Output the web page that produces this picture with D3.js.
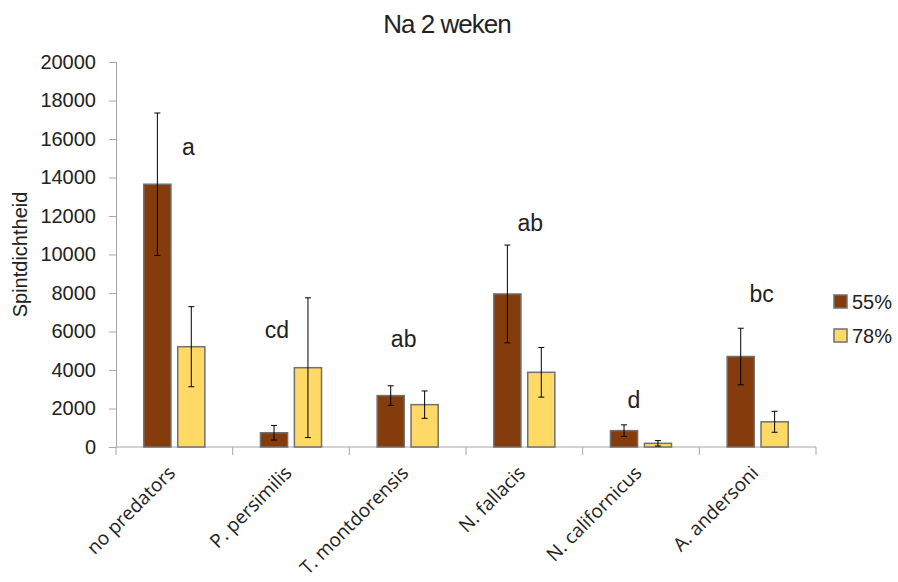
<!DOCTYPE html>
<html>
<head>
<meta charset="utf-8">
<script src="https://cdn.jsdelivr.net/npm/d3@7"></script>
<style>
  body { margin: 0; background: #fff; }
  text { font-family: "Liberation Sans", Arial, sans-serif; fill: #222; }
  text.cat { font-family: "Open Sans", sans-serif; }
</style>
</head>
<body>
<svg id="chart"></svg>
<script>
var width = 898;
var height = 582;

// data
var species = ["no predators", "P. persimilis", "T. montdorensis", "N. fallacis", "N. californicus", "A. andersoni"];
var series = ["55%", "78%"];
var colors = ["#843c0c", "#ffd966"];
var mean55 = [13650, 740, 2670, 7950, 850, 4700];
var err55 = [3700, 380, 510, 2540, 300, 1470];
var mean78 = [5210, 4120, 2200, 3880, 190, 1310];
var err78 = [2080, 3630, 710, 1290, 140, 545];
var letters = ["a", "cd", "ab", "ab", "d", "bc"];
var letterAt = [15600, 6080, 5600, 11620, 2440, 7930];
var letterDx = [14, -14, -4, 6, -7, 4];
var yTicks = [0, 2000, 4000, 6000, 8000, 10000, 12000, 14000, 16000, 18000, 20000];

var margin = {left: 116, right: 82, top: 62, bottom: 135};

var svg = d3.select("#chart")
            .attr("width", width)
            .attr("height", height);

var x0 = d3.scaleBand()
           .domain(species)
           .range([margin.left, width - margin.right])
           .padding(0);

var x1 = d3.scaleBand()
           .domain(series)
           .range([0, x0.bandwidth()])
           .paddingInner(0.2)
           .paddingOuter(0.82);

var y = d3.scaleLinear()
          .domain([0, 20000])
          .range([height - margin.bottom, margin.top]);

//title
svg.append("text")
  .text("Na 2 weken")
  .attr("font-size", "26px")
  .attr("letter-spacing", "-1px")
  .attr("text-anchor", "middle")
  .attr("x", 447)
  .attr("y", 33);

//y axis
var yAxis = svg.append("g")
  .attr("transform", "translate(" + margin.left + ",0)")
  .call(d3.axisLeft(y).tickValues(yTicks).tickSize(7).tickPadding(13).tickFormat(d3.format("d")));

yAxis.selectAll("text")
  .attr("font-size", "20px")
  .attr("fill", "#222");

yAxis.select(".domain").attr("stroke", "#a6a6a6");
yAxis.selectAll(".tick line").attr("stroke", "#a6a6a6");

svg.append("text")
  .text("Spintdichtheid")
  .attr("font-size", "20px")
  .attr("text-anchor", "middle")
  .attr("transform", "translate(27," + y(10000) + ") rotate(-90)");

//x axis
var xg = svg.append("g");

xg.append("line")
  .attr("x1", margin.left)
  .attr("x2", width - margin.right)
  .attr("y1", y(0))
  .attr("y2", y(0))
  .attr("stroke", "#a6a6a6");

var bounds = species.map(function (s) { return x0(s); });
bounds.push(width - margin.right);

bounds.forEach(function (b) {
  xg.append("line")
    .attr("x1", b)
    .attr("x2", b)
    .attr("y1", y(0))
    .attr("y2", y(0) + 8)
    .attr("stroke", "#a6a6a6");
});

species.forEach(function (s) {
  var cx = x0(s) + x0.bandwidth() / 2;
  xg.append("text")
    .attr("class", "cat")
    .text(s)
    .attr("font-size", "19px")
    .attr("text-anchor", "end")
    .attr("transform", "translate(" + (cx + 2) + "," + 474 + ") rotate(-45)");
});

//bars
var bars = svg.append("g");

species.forEach(function (s, i) {
  var vals = [[mean55[i], err55[i]], [mean78[i], err78[i]]];

  vals.forEach(function (v, j) {
    var bx = x0(s) + x1(series[j]);

    bars.append("rect")
      .attr("x", bx)
      .attr("y", y(v[0]))
      .attr("width", x1.bandwidth())
      .attr("height", y(0) - y(v[0]))
      .attr("fill", colors[j])
      .attr("stroke", "#707070")
      .attr("stroke-width", 1.5);

    var mx = bx + x1.bandwidth() / 2;

    bars.append("line")
      .attr("x1", mx).attr("x2", mx)
      .attr("y1", y(v[0] + v[1])).attr("y2", y(v[0] - v[1]))
      .attr("stroke", "#000");

    [v[0] + v[1], v[0] - v[1]].forEach(function (e) {
      bars.append("line")
        .attr("x1", mx - 3).attr("x2", mx + 3)
        .attr("y1", y(e)).attr("y2", y(e))
        .attr("stroke", "#000");
    });
  });

  bars.append("text")
    .text(letters[i])
    .attr("font-size", "23px")
    .attr("fill", "#000")
    .attr("text-anchor", "middle")
    .attr("dominant-baseline", "central")
    .attr("x", x0(s) + x0.bandwidth() / 2 + letterDx[i])
    .attr("y", y(letterAt[i]));
});

//legend
var legend = svg.append("g");

series.forEach(function (s, j) {
  legend.append("rect")
    .attr("x", 834)
    .attr("y", 295 + j * 34)
    .attr("width", 13)
    .attr("height", 13)
    .attr("fill", colors[j])
    .attr("stroke", "#707070")
    .attr("stroke-width", 1.5);

  legend.append("text")
    .text(s)
    .attr("font-size", "20px")
    .attr("dominant-baseline", "central")
    .attr("x", 852)
    .attr("y", 302 + j * 34);
});
</script>
</body>
</html>
